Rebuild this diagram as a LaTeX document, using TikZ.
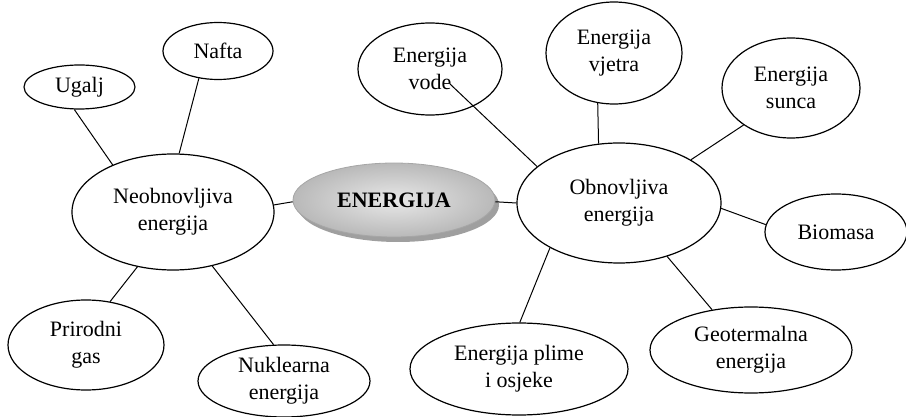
\documentclass[tikz,border=0pt]{standalone}
\usepackage{fontspec}
\setmainfont{Liberation Serif}
\usetikzlibrary{shapes.geometric,shadows}

\tikzset{
  leaf/.style={draw, ellipse, inner sep=0pt, line width=0.6pt, align=center,
    font=\fontsize{11}{13.5}\selectfont},
  hub/.style={draw=gray!70, ellipse, inner sep=0pt, line width=0.4pt,
    shading=radial, inner color=gray!18, outer color=gray!55,
    drop shadow={shadow xshift=2pt, shadow yshift=-2.5pt, fill=gray!75, opacity=1},
    font=\fontsize{11}{13.5}\selectfont\bfseries},
  link/.style={line width=0.5pt}
}

\begin{document}
\begin{tikzpicture}[x=0.5pt, y=-0.5pt]
  \useasboundingbox (0,0) rectangle (906,417);

  \node[hub, minimum width=101pt, minimum height=37pt] (energija) at (394,200) {ENERGIJA};

  \node[leaf, minimum width=101pt, minimum height=58pt] (neobn) at (173,212) {Neobnovljiva\\energija};
  \node[leaf, minimum width=55.5pt, minimum height=22pt] (ugalj) at (79.5,87) {Ugalj};
  \node[leaf, minimum width=55pt, minimum height=28.5pt] (nafta) at (218,51) {Nafta};
  \node[leaf, minimum width=78pt, minimum height=45pt] (gas) at (86,345) {Prirodni\\gas};
  \node[leaf, minimum width=86pt, minimum height=36pt] (nukl) at (284,381) {Nuklearna\\energija};

  \node[leaf, minimum width=102pt, minimum height=60pt] (obn) at (619,203) {Obnovljiva\\energija};
  \node[leaf, minimum width=72pt, minimum height=46pt] (vode) at (430,69) {Energija\\vode};
  \node[leaf, minimum width=68pt, minimum height=51pt] (vjetra) at (614,53) {Energija\\vjetra};
  \node[leaf, minimum width=69pt, minimum height=50pt] (sunca) at (791,88) {Energija\\sunca};
  \node[leaf, minimum width=71pt, minimum height=38pt] (biomasa) at (836,232) {Biomasa};
  \node[leaf, minimum width=101pt, minimum height=43pt] (geo) at (751,350) {Geotermalna\\energija};
  \node[leaf, minimum width=109pt, minimum height=46pt] (plime) at (519,369) {Energija plime\\i osjeke};

  \draw[link] (ugalj.257) -- (neobn.142);
  \draw[link] (nafta.235) -- (neobn.84);
  \draw[link] (neobn.4) -- (energija.181);
  \draw[link] (neobn.237) -- (gas.61);
  \draw[link] (neobn.306) -- (nukl.106);

  \draw[link] (energija.359) -- (obn.180);
  \draw[link] ([shift={(10pt,-7.5pt)}]vode.center) -- (obn.156);
  \draw[link] (vjetra.252) -- (obn.109);
  \draw[link] (sunca.218) -- (obn.31);
  \draw[link] (biomasa.174) -- (obn.357);
  \draw[link] (plime.89) -- (obn.213);
  \draw[link] (geo.134) -- (obn.312);
\end{tikzpicture}
\end{document}
